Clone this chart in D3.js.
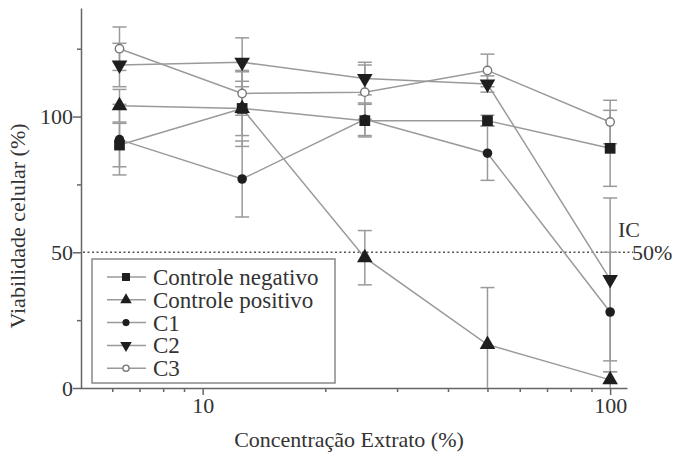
<!DOCTYPE html>
<html><head><meta charset="utf-8">
<script src="https://cdn.jsdelivr.net/npm/d3@7"></script>
<style>body{margin:0;background:#fff}svg{display:block}
svg text{font-family:"Liberation Serif","Times New Roman","DejaVu Serif",serif;font-size:22px;fill:#333}
svg text.leg{font-size:23px}</style>
</head><body><svg id="c" width="680" height="456"></svg>
<script>
const concentrations = [6.25, 12.5, 25, 50, 100];
const seriesNames = ["Controle negativo", "Controle positivo", "C1", "C2", "C3"];
const controleNegativo = [89.5, 103, 98.5, 98.5, 88.3];
const controleNegativoErr = [8, 10, 6, 2, 14];
const controlePositivo = [104, 103, 48, 16, 3];
const controlePositivoErr = [6, 14, 10, 21, 3];
const c1 = [91.5, 77, 99, 86.5, 28];
const c1Err = [13, 14, 6, 10, 22];
const c2 = [119, 120, 114, 112, 40];
const c2Err = [8, 9, 6, 3, 30];
const c3 = [125, 108.5, 109, 117, 98];
const c3Err = [8, 8, 10, 6, 8];
const yTicks = [0, 50, 100];
const yMinorTicks = [25, 75, 125];
const xTicks = [10, 100];
const xMinorTicks = [6, 7, 8, 9, 20, 30, 40, 50, 60, 70, 80, 90];
const icLevel = 50;

const series = [
  {name: seriesNames[0], v: controleNegativo, e: controleNegativoErr, sym: "square"},
  {name: seriesNames[1], v: controlePositivo, e: controlePositivoErr, sym: "tri"},
  {name: seriesNames[2], v: c1, e: c1Err, sym: "circle"},
  {name: seriesNames[3], v: c2, e: c2Err, sym: "down"},
  {name: seriesNames[4], v: c3, e: c3Err, sym: "open"}
];

const svg = d3.select("#c");
const axisCol = "#666";
const lineCol = "#9a9a9a";
const markCol = "#1e1e1e";

const x = d3.scaleLog().domain([5, 110]).range([80, 627]);
const y = d3.scaleLinear().domain([0, 140]).range([388, 8]);

// axes
const gy = svg.append("g").attr("transform", "translate(81,0)")
  .call(d3.axisLeft(y).tickValues(yTicks).tickSize(8).tickSizeOuter(0).tickFormat(d3.format("d")));
const gym = svg.append("g").attr("transform", "translate(81,0)")
  .call(d3.axisLeft(y).tickValues(yMinorTicks).tickSize(4).tickSizeOuter(0).tickFormat(""));
gym.select(".domain").remove();
const gx = svg.append("g").attr("transform", "translate(0,388)")
  .call(d3.axisBottom(x).tickValues(xTicks).tickSize(7).tickSizeOuter(0).tickFormat(d3.format("d")));
const gxm = svg.append("g").attr("transform", "translate(0,388)")
  .call(d3.axisBottom(x).tickValues(xMinorTicks).tickSize(4).tickSizeOuter(0).tickFormat(""));
gxm.select(".domain").remove();
[gy, gym, gx, gxm].forEach(g => {
  g.attr("font-family", null).attr("font-size", null);
  g.selectAll("path,line").attr("stroke", axisCol).attr("stroke-width", 1.5);
  g.selectAll("text").attr("fill", null);
});
gy.selectAll("text").attr("x", -8);
gx.selectAll("text").attr("y", 9);

// axis titles
svg.append("text").attr("x", 349).attr("y", 447).attr("text-anchor", "middle")
  .text("Concentração Extrato (%)");
svg.append("text").attr("transform", "translate(25,226) rotate(-90)").attr("text-anchor", "middle")
  .text("Viabilidade celular (%)");

// IC50 line
svg.append("line").attr("x1", x(5) + 3).attr("x2", 633).attr("y1", y(icLevel)).attr("y2", y(icLevel))
  .attr("stroke", "#555").attr("stroke-width", 1.5).attr("stroke-dasharray", "2,2.5");
svg.append("text").attr("x", 618).attr("y", 237).text("IC");
svg.append("text").attr("x", 632).attr("y", 260).text("50%");

// error bars
const eg = svg.append("g");
series.forEach(s => {
  concentrations.forEach((c, i) => {
    const cx = x(c);
    const lo = Math.max(0, s.v[i] - s.e[i]);
    const hi = s.v[i] + s.e[i];
    eg.append("line").attr("x1", cx).attr("x2", cx).attr("y1", y(lo)).attr("y2", y(hi))
      .attr("stroke", lineCol).attr("stroke-width", 1.5);
    [hi].concat(s.v[i] - s.e[i] > 0 ? [lo] : []).forEach(v => {
      eg.append("line").attr("x1", cx - 7).attr("x2", cx + 7).attr("y1", y(v)).attr("y2", y(v))
        .attr("stroke", lineCol).attr("stroke-width", 1.5);
    });
  });
});

// lines
const line = d3.line().x((d, i) => x(concentrations[i])).y(d => y(d));
series.forEach(s => {
  svg.append("path").attr("d", line(s.v)).attr("fill", "none")
    .attr("stroke", lineCol).attr("stroke-width", 1.5);
});

function drawSym(g, type, cx, cy, scale) {
  let p;
  if (type === "square") p = g.append("path").attr("d", d3.symbol(d3.symbolSquare, 115 * scale)());
  else if (type === "tri" || type === "down") p = g.append("path").attr("d", d3.symbol(d3.symbolTriangle, 105 * scale)());
  else if (type === "circle") p = g.append("path").attr("d", d3.symbol(d3.symbolCircle, 72 * scale)());
  else p = g.append("path").attr("d", d3.symbol(d3.symbolCircle, 55 * scale)());
  p.attr("transform", `translate(${cx},${cy})` + (type === "down" ? " rotate(180)" : ""));
  if (type === "open") p.attr("fill", "#fff").attr("stroke", "#777").attr("stroke-width", 1.4);
  else p.attr("fill", markCol);
}

const mg = svg.append("g");
series.forEach(s => {
  concentrations.forEach((c, i) => drawSym(mg, s.sym, x(c), y(s.v[i]), 1));
});

// legend
const lg = svg.append("g");
lg.append("rect").attr("x", 92).attr("y", 259).attr("width", 243).attr("height", 124)
  .attr("fill", "#fff").attr("stroke", "#888").attr("stroke-width", 1.5);
series.forEach((s, i) => {
  const cy = 277 + i * 22.8;
  lg.append("line").attr("x1", 107).attr("x2", 146).attr("y1", cy).attr("y2", cy)
    .attr("stroke", lineCol).attr("stroke-width", 1.5);
  drawSym(lg, s.sym, 126, cy, 0.55);
  lg.append("text").attr("class", "leg").attr("x", 153).attr("y", cy + 8).text(s.name);
});
</script></body></html>
